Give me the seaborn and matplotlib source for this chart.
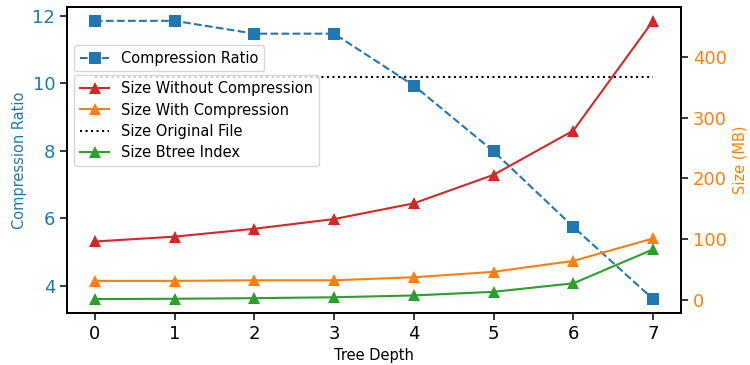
import matplotlib
matplotlib.use("Agg")
import matplotlib.pyplot as plt
import seaborn as sns
import pandas as pd

tree_depth = [0, 1, 2, 3, 4, 5, 6, 7]
compression_ratio = [11.85, 11.85, 11.47, 11.47, 9.93, 7.98, 5.74, 3.60]
size_without_compression = [96, 104, 117, 133, 159, 206, 279, 460]
size_with_compression = [31, 31, 32, 32, 37, 46, 64, 101]
size_original_file = [368, 368, 368, 368, 368, 368, 368, 368]
size_btree_index = [1, 1.5, 2.5, 4, 7, 13, 27, 83]

plt.rcParams['font.family'] = ['DejaVu Sans']
plt.rcParams['axes.linewidth'] = 1.25
plt.rcParams['xtick.major.width'] = 1.1
plt.rcParams['ytick.major.width'] = 1.1

BLUE = "#1f77b4"
RED = "#d62728"
ORANGE = "#ff7f0e"
GREEN = "#2ca02c"

df = pd.DataFrame({
    "depth": tree_depth,
    "ratio": compression_ratio,
    "without": size_without_compression,
    "with": size_with_compression,
    "orig": size_original_file,
    "btree": size_btree_index,
})

fig, ax1 = plt.subplots(figsize=(7.5, 3.65), dpi=100)
fig.subplots_adjust(left=0.0893, right=0.908, top=0.981, bottom=0.1425)
ax2 = ax1.twinx()

sns.lineplot(data=df, x="depth", y="ratio", ax=ax1, color=BLUE, marker="s",
             linestyle="--", markersize=9, mec=BLUE, mew=0, label="Compression Ratio",
             legend=False)
sns.lineplot(data=df, x="depth", y="without", ax=ax2, color=RED, marker="^",
             markersize=9, mec=RED, mew=0, label="Size Without Compression", legend=False)
sns.lineplot(data=df, x="depth", y="with", ax=ax2, color=ORANGE, marker="^",
             markersize=9, mec=ORANGE, mew=0, label="Size With Compression", legend=False)
sns.lineplot(data=df, x="depth", y="orig", ax=ax2, color="black", linestyle=":",
             label="Size Original File", legend=False)
sns.lineplot(data=df, x="depth", y="btree", ax=ax2, color=GREEN, marker="^",
             markersize=9, mec=GREEN, mew=0, label="Size Btree Index", legend=False)

ax1.set_xlabel("Tree Depth", fontsize=10.5)
ax1.set_ylabel("Compression Ratio", fontsize=10.5, color=BLUE)
ax2.set_ylabel("Size (MB)", fontsize=10.5, color=ORANGE)
ax1.set_xticks(tree_depth)
ax1.set_yticks([4, 6, 8, 10, 12])
ax2.set_yticks([0, 100, 200, 300, 400])
ax1.tick_params(axis="x", labelsize=13, length=5)
ax1.tick_params(axis="y", labelsize=13, labelcolor=BLUE, length=5)
ax2.tick_params(axis="y", labelsize=13, labelcolor=ORANGE, length=5)

h1, l1 = ax1.get_legend_handles_labels()
h2, l2 = ax2.get_legend_handles_labels()
ax1.legend(h1, l1, loc="upper left", bbox_to_anchor=(0, 0.9), fontsize=10.5,
           labelspacing=0.43)
ax2.legend(h2, l2, loc="upper left", bbox_to_anchor=(0, 0.8), fontsize=10.5,
           labelspacing=0.43)

fig.savefig("out.png", dpi=100)
